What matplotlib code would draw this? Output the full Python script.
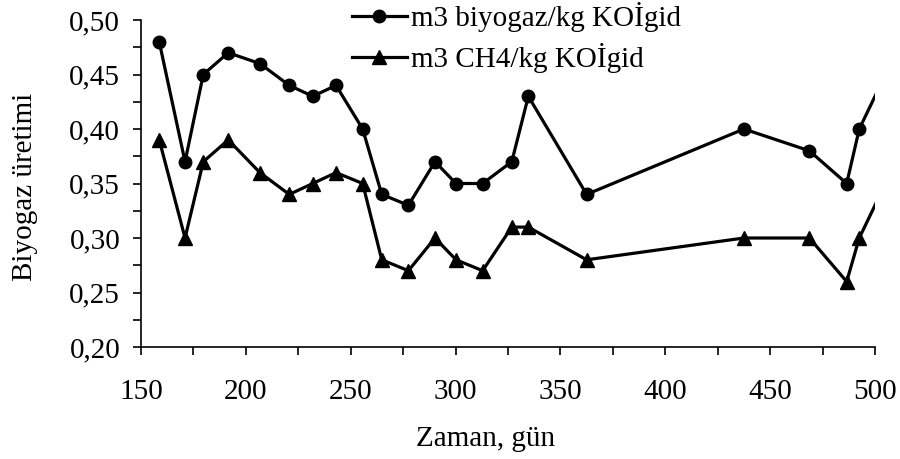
import matplotlib
matplotlib.use("Agg")
import matplotlib.pyplot as plt
from matplotlib.ticker import MultipleLocator, FixedLocator, FixedFormatter

# Data
days = [158.7, 171, 179.7, 191.6, 206.7, 220.7, 231.9, 243, 255.7, 264.8, 277.5,
        290.2, 300.2, 312.9, 326.8, 334.7, 362.5, 437.5, 468.7, 486.5, 492.5, 505]
biogas = [0.48, 0.37, 0.45, 0.47, 0.46, 0.44, 0.43, 0.44, 0.40, 0.34, 0.33,
          0.37, 0.35, 0.35, 0.37, 0.43, 0.34, 0.40, 0.38, 0.35, 0.40, 0.45]
ch4 = [0.39, 0.30, 0.37, 0.39, 0.36, 0.34, 0.35, 0.36, 0.35, 0.28, 0.27,
       0.30, 0.28, 0.27, 0.31, 0.31, 0.28, 0.30, 0.30, 0.26, 0.30, 0.35]

x_ticks = [150, 200, 250, 300, 350, 400, 450, 500]
y_ticks = [0.20, 0.25, 0.30, 0.35, 0.40, 0.45, 0.50]
y_tick_labels = ["0,20", "0,25", "0,30", "0,35", "0,40", "0,45", "0,50"]

label_biogas = "m3 biyogaz/kg KOİgid"
label_ch4 = "m3 CH4/kg KOİgid"

plt.rcParams['font.family'] = ['Liberation Serif', 'DejaVu Serif']

fig = plt.figure(figsize=(9, 4.59), dpi=100)
ax = fig.add_axes([141/900, 1 - 347/459, (875-141)/900, (347-20)/459])

l1, = ax.plot(days, biogas, color='black', lw=2.3, marker='o', ms=9,
              label=label_biogas, clip_on=True)
l2, = ax.plot(days, ch4, color='black', lw=2.3, marker='^', ms=10,
              label=label_ch4, clip_on=True)

ax.set_xlim(150, 500)
ax.set_ylim(0.20, 0.50)
ax.xaxis.set_major_locator(FixedLocator(x_ticks))
ax.xaxis.set_minor_locator(MultipleLocator(25))
ax.yaxis.set_major_locator(FixedLocator(y_ticks))
ax.yaxis.set_major_formatter(FixedFormatter(y_tick_labels))
ax.yaxis.set_minor_locator(MultipleLocator(0.025))

for s in ['top', 'right']:
    ax.spines[s].set_visible(False)
for s in ['left', 'bottom']:
    ax.spines[s].set_linewidth(1.2)

ax.tick_params(axis='both', which='both', direction='out', length=6, width=1.2,
               labelsize=21)
ax.tick_params(axis='x', which='major', pad=17)
ax.tick_params(axis='y', which='major', pad=9)

ax.set_xlabel("Zaman, gün", fontsize=21)
ax.xaxis.set_label_coords((486 - 141) / 734, -0.241)
ax.set_ylabel("Biyogaz üretimi", fontsize=21)
ax.yaxis.set_label_coords(-0.140, 0.489)

fig.legend(handles=[l1, l2], loc='upper left', bbox_to_anchor=(340/900, 1.02),
           frameon=False, fontsize=21, handlelength=1.9, handletextpad=0.15,
           labelspacing=0.37, borderaxespad=0)

fig.savefig("out.png", dpi=100)
